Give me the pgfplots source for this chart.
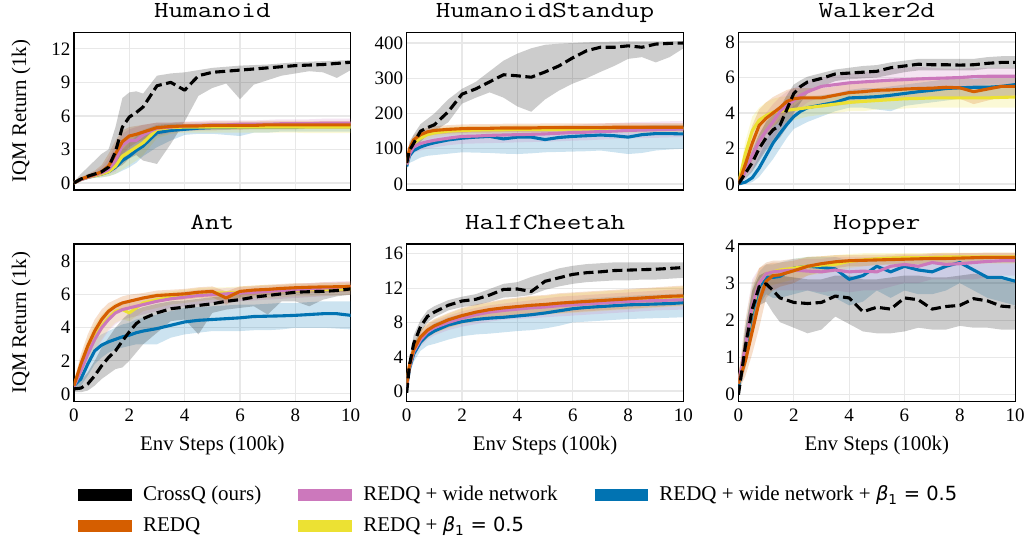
\documentclass[border=0pt]{standalone}
\usepackage{pgfplots}
\pgfplotsset{compat=1.18}
\usepackage{pgfplotstable}
\usepgfplotslibrary{fillbetween}
\usepackage{fontspec}
\setmainfont{Liberation Serif}
\newfontfamily\ttl{Latin Modern Mono}[FakeStretch=1.23]
\newfontfamily\dvs{DejaVu Sans}

\definecolor{redq}{HTML}{D55E00}
\definecolor{wide}{HTML}{CC78BC}
\definecolor{beta}{HTML}{ECE133}
\definecolor{wbeta}{HTML}{0173B2}

% columns: c = CrossQ, r = REDQ, w = REDQ+wide, b = REDQ+beta, q = REDQ+wide+beta
% m = IQM, l/h = lower/upper band
\pgfplotstableread{
x    cm    cl    ch    rm   rl   rh   wm   wl   wh   bm   bl   bh   qm   ql   qh
0    0.0   0.0   0.1   0.0  0.0  0.1  0.0  0.0  0.1  0.0  0.0  0.1  0.0  0.0  0.1
0.25 0.35  0.2   0.8   0.35 0.2  0.5  0.3  0.2  0.45 0.3  0.2  0.45 0.3  0.2  0.45
0.5  0.6   0.4   1.4   0.55 0.4  0.8  0.5  0.35 0.7  0.5  0.35 0.7  0.5  0.35 0.7
0.75 0.8   0.6   2.0   0.75 0.55 1.1  0.7  0.5  1.0  0.65 0.45 0.9  0.65 0.45 0.9
1    1.0   0.8   2.6   1.0  0.7  1.6  0.9  0.6  1.4  0.8  0.5  1.2  0.8  0.5  1.2
1.25 1.4   1.0   3.0   1.5  0.9  2.6  1.2  0.8  2.2  1.0  0.6  1.8  1.0  0.6  1.6
1.5  2.8   1.3   5.0   2.6  1.4  3.8  2.0  1.0  3.4  1.5  0.8  2.6  1.4  0.8  2.2
1.75 5.0   1.6   7.6   3.7  2.5  4.7  3.4  2.0  4.4  2.4  1.2  3.6  2.0  1.1  3.0
2    5.9   2.2   8.1   4.2  3.2  5.0  3.8  2.6  4.8  2.8  1.6  4.0  2.4  1.4  3.6
2.25 6.3   2.5   8.2   4.35 3.6  5.1  3.8  2.9  5.0  3.2  2.0  4.4  2.9  1.8  4.2
2.5  6.8   2.0   8.0   4.55 3.9  5.2  4.3  3.4  5.2  3.6  2.5  4.8  3.3  2.4  4.7
3    8.7   1.7   9.6   4.95 4.4  5.4  4.9  4.2  5.4  4.8  4.0  5.2  4.5  3.2  5.2
3.5  9.0   3.5   9.8   5.05 4.6  5.4  5.0  4.5  5.4  4.95 4.4  5.3  4.7  3.8  5.3
4    8.3   5.5   9.9   5.1  4.7  5.45 5.1  4.6  5.5  5.0  4.5  5.3  4.8  4.3  5.3
4.5  9.6   7.8   10.1  5.1  4.7  5.45 5.15 4.7  5.55 5.0  4.5  5.3  4.9  4.4  5.3
5    9.9   8.5   10.3  5.15 4.7  5.5  5.2  4.8  5.6  5.0  4.5  5.35 4.95 4.4  5.35
5.5  10.0  8.9   10.4  5.15 4.75 5.5  5.2  4.8  5.6  5.0  4.5  5.35 4.95 4.3  5.35
6    10.1  7.5   10.5  5.15 4.75 5.5  5.25 4.85 5.6  5.0  4.5  5.35 5.0  4.2  5.4
6.5  10.2  8.8   10.55 5.15 4.8  5.5  5.25 4.9  5.6  5.0  4.5  5.35 5.0  4.5  5.4
7    10.3  9.2   10.6  5.2  4.8  5.55 5.25 4.9  5.65 5.0  4.5  5.35 5.0  4.5  5.4
7.5  10.4  9.6   10.7  5.2  4.8  5.55 5.3  4.9  5.7  5.0  4.5  5.35 5.0  4.6  5.4
8    10.5  9.8   10.8  5.2  4.8  5.55 5.3  4.95 5.7  5.0  4.5  5.35 5.0  4.6  5.4
8.5  10.55 10.0  10.85 5.2  4.85 5.55 5.3  4.95 5.7  5.0  4.45 5.35 5.05 4.6  5.4
9    10.6  9.9   10.9  5.2  4.85 5.55 5.35 5.0  5.75 5.0  4.45 5.35 5.05 4.6  5.4
9.5  10.7  9.4   10.95 5.2  4.85 5.55 5.35 5.0  5.75 5.0  4.45 5.35 5.05 4.6  5.4
10   10.8  10.1  11.0  5.2  4.85 5.55 5.35 5.0  5.75 5.0  4.45 5.35 5.05 4.6  5.4
}\tabHU

\pgfplotstableread{
x    cm  cl  ch  rm  rl  rh  wm  wl  wh  bm  bl  bh  qm  ql  qh
0    60  50  70  60  50  70  55  45  65  55  45  65  50  40  60
0.1  95  70  120 100 88  112 85  70  100 90  78  102 80  60  95
0.25 115 95  140 125 112 138 105 88  122 115 102 128 95  65  115
0.5  150 120 170 140 128 152 115 95  135 130 118 142 105 75  130
0.75 160 140 185 148 136 160 120 100 140 140 128 152 112 80  138
1    168 150 200 152 140 164 124 104 144 145 133 157 117 82  145
1.5  205 175 240 155 143 167 130 110 150 150 138 162 125 86  152
2    255 228 270 157 145 169 135 114 155 152 140 164 130 90  156
2.5  270 245 290 158 146 170 136 115 157 153 141 165 133 89  158
3    290 260 320 158 146 170 138 116 160 154 142 166 135 88  160
3.5  310 245 350 159 147 171 139 117 161 154 142 166 128 86  155
4    307 220 370 159 147 171 140 118 162 155 143 167 133 85  158
4.5  303 205 385 159 147 171 141 119 163 155 143 167 133 87  158
5    318 240 395 160 148 172 142 120 164 155 143 167 126 90  152
5.5  335 265 398 160 148 172 144 121 166 155 143 167 132 91  157
6    358 285 400 160 148 172 146 123 168 156 144 168 135 92  160
6.5  378 300 402 160 148 172 147 124 170 156 144 168 137 93  162
7    388 318 403 160 148 172 149 126 172 156 144 168 139 95  164
7.5  388 335 404 161 149 173 150 127 173 157 145 169 137 90  162
8    392 355 405 161 149 173 152 129 175 157 145 169 133 85  158
8.5  388 360 405 161 149 173 153 130 176 157 145 169 140 88  165
9    397 345 405 161 149 173 154 131 177 157 145 169 143 95  168
9.5  399 360 405 161 149 173 155 132 178 158 146 170 143 98  168
10   400 385 406 161 149 173 156 133 179 158 146 170 142 100 167
}\tabHS

\pgfplotstableread{
x    cm   cl   ch   rm   rl   rh   wm   wl   wh   bm   bl   bh   qm   ql   qh
0    0.0  0.0  0.2  0.0  0.0  0.3  0.0  0.0  0.2  0.0  0.0  0.3  0.0  0.0  0.1
0.25 0.6  0.3  1.0  1.1  0.5  1.9  0.7  0.3  1.3  1.7  0.9  2.4  0.1  0.0  0.3
0.5  1.2  0.7  1.9  2.3  1.3  3.3  1.6  0.8  2.5  3.0  2.0  3.8  0.35 0.1  0.8
0.75 2.0  1.3  2.8  3.3  2.2  4.2  2.4  1.4  3.4  3.6  2.7  4.3  0.9  0.4  1.6
1    2.6  1.9  3.5  3.7  2.8  4.6  3.0  2.0  4.0  3.85 3.0  4.6  1.6  0.9  2.4
1.25 3.05 2.3  3.9  4.0  3.2  4.9  3.5  2.5  4.5  4.05 3.3  4.8  2.3  1.4  3.2
1.5  3.3  2.6  4.3  4.3  3.6  5.1  4.1  3.1  4.9  4.1  3.4  4.9  2.85 2.0  3.7
1.75 4.2  3.2  5.0  4.65 4.0  5.3  4.4  3.5  5.2  4.15 3.5  4.95 3.35 2.6  4.1
2    5.1  4.0  5.6  4.8  4.2  5.4  4.7  3.9  5.4  4.2  3.6  5.0  3.8  3.1  4.4
2.25 5.5  4.6  5.85 4.85 4.3  5.4  5.0  4.3  5.6  4.25 3.7  5.0  4.1  3.3  4.7
2.5  5.75 5.1  6.05 4.85 4.3  5.4  5.2  4.6  5.8  4.3  3.8  5.0  4.3  3.5  4.9
3    5.95 5.5  6.25 4.85 4.3  5.4  5.5  4.9  6.0  4.4  3.9  5.0  4.45 3.8  5.0
3.5  6.2  5.8  6.45 5.0  4.4  5.5  5.6  5.0  6.1  4.5  4.0  5.1  4.6  4.1  5.1
4    6.25 5.9  6.55 5.15 4.5  5.7  5.7  5.1  6.2  4.6  4.1  5.2  4.85 4.3  5.3
4.5  6.3  5.95 6.65 5.2  4.6  5.8  5.75 5.1  6.3  4.65 4.1  5.25 4.88 4.3  5.4
5    6.35 6.0  6.7  5.28 4.7  5.85 5.8  5.1  6.4  4.7  4.2  5.3  4.92 4.2  5.4
5.5  6.55 6.15 6.85 5.3  4.7  5.9  5.85 5.2  6.5  4.75 4.2  5.35 5.0  4.1  5.5
6    6.65 6.3  6.95 5.35 4.75 5.95 5.88 5.25 6.55 4.8  4.25 5.4  5.1  4.4  5.6
6.5  6.75 6.4  7.05 5.38 4.8  6.0  5.92 5.3  6.6  4.82 4.3  5.4  5.2  4.5  5.7
7    6.72 6.4  7.05 5.4  4.8  6.0  5.95 5.4  6.55 4.85 4.3  5.45 5.28 4.6  5.8
7.5  6.72 6.4  7.05 5.45 4.85 6.05 5.97 5.45 6.5  4.85 4.3  5.45 5.38 4.7  5.9
8    6.7  6.4  7.05 5.42 4.8  6.05 6.0  5.5  6.5  4.85 4.3  5.45 5.42 4.8  5.95
8.5  6.72 6.4  7.05 5.2  4.5  5.9  6.05 5.55 6.55 4.85 4.3  5.45 5.45 4.8  6.0
9    6.8  6.5  7.15 5.35 4.7  6.0  6.07 5.6  6.55 4.85 4.3  5.45 5.45 4.8  6.0
9.5  6.85 6.5  7.2  5.5  4.9  6.1  6.07 5.6  6.55 4.88 4.3  5.5  5.5  4.9  6.05
10   6.85 6.5  7.2  5.5  4.9  6.1  6.07 5.6  6.55 4.9  4.3  5.5  5.6  5.0  6.1
}\tabWA

\pgfplotstableread{
x    cm   cl   ch   rm   rl   rh   wm   wl   wh   bm   bl   bh   qm   ql   qh
0    0.3  0.1  0.5  0.5  0.3  0.7  0.45 0.3  0.6  0.5  0.3  0.7  0.5  0.3  0.7
0.25 0.35 0.1  0.8  1.8  1.2  2.4  1.4  0.9  2.0  1.6  1.0  2.2  0.9  0.5  1.4
0.5  0.6  0.2  1.3  2.9  2.2  3.6  2.4  1.7  3.1  2.6  1.9  3.3  1.8  1.1  2.5
0.75 1.1  0.5  2.0  3.8  3.1  4.5  3.3  2.5  4.0  3.4  2.6  4.2  2.6  1.8  3.3
1    1.7  0.9  2.8  4.5  3.8  5.1  4.0  3.2  4.7  4.1  3.3  4.8  2.95 2.2  3.6
1.25 2.2  1.2  3.4  5.0  4.4  5.5  4.5  3.8  5.1  4.6  3.9  5.2  3.15 2.5  3.8
1.5  2.6  1.5  4.0  5.3  4.8  5.7  4.9  4.2  5.4  5.0  4.3  5.5  3.3  2.7  4.0
1.75 3.2  1.6  4.5  5.5  5.0  5.9  5.1  4.5  5.6  5.1  4.5  5.6  3.45 2.8  4.2
2    3.75 2.0  4.9  5.6  5.15 6.0  5.2  4.6  5.7  4.9  4.4  5.6  3.55 2.9  4.3
2.25 4.25 2.5  5.1  5.7  5.3  6.05 5.3  4.7  5.8  5.2  4.7  5.7  3.7  3.0  4.5
2.5  4.55 3.0  5.25 5.8  5.4  6.1  5.4  4.8  5.9  5.5  5.0  5.9  3.8  3.0  4.6
3    4.9  3.7  5.45 5.95 5.6  6.25 5.6  5.0  6.0  5.7  5.2  6.1  3.95 3.0  4.8
3.5  5.15 4.4  5.6  6.0  5.65 6.3  5.75 5.2  6.1  5.85 5.4  6.2  4.15 3.4  5.0
4    5.25 4.5  5.65 6.05 5.7  6.35 5.85 5.3  6.2  5.95 5.5  6.3  4.35 3.6  5.2
4.5  5.35 3.6  5.75 6.15 5.8  6.45 5.95 5.4  6.3  6.05 5.6  6.4  4.45 3.7  5.25
5    5.45 4.9  5.85 6.2  5.85 6.5  6.0  5.5  6.35 6.1  5.7  6.45 4.5  3.8  5.3
5.5  5.6  5.1  5.95 5.8  5.4  6.2  6.05 5.5  6.4  6.1  5.7  6.45 4.55 3.8  5.35
6    5.7  5.2  6.05 6.2  5.85 6.5  6.1  5.6  6.45 6.15 5.75 6.5  4.6  3.8  5.4
6.5  5.85 5.3  6.15 6.28 5.95 6.55 6.15 5.65 6.5  6.2  5.8  6.55 4.68 3.85 5.4
7    5.95 4.8  6.25 6.32 6.0  6.6  6.2  5.7  6.55 6.22 5.8  6.6  4.7  3.85 5.45
7.5  6.05 5.6  6.35 6.38 6.05 6.65 6.25 5.75 6.6  6.25 5.85 6.6  4.72 3.9  5.5
8    6.15 5.6  6.4  6.42 6.1  6.7  6.3  5.8  6.65 6.28 5.9  6.65 4.75 4.0  5.5
8.5  6.18 5.3  6.45 6.45 6.1  6.7  6.35 5.85 6.7  6.3  5.9  6.65 4.8  4.0  5.55
9    6.2  5.7  6.5  6.47 6.15 6.75 6.4  5.9  6.75 6.32 5.95 6.7  4.85 4.0  5.6
9.5  6.25 5.9  6.55 6.48 6.15 6.75 6.45 5.95 6.8  6.34 5.95 6.7  4.85 3.95 5.6
10   6.35 6.0  6.6  6.5  6.2  6.8  6.5  6.0  6.8  6.35 6.0  6.7  4.75 3.9  5.6
}\tabAN

\pgfplotstableread{
x    cm    cl   ch   rm    rl   rh   wm    wl   wh   bm    bl   bh   qm    ql   qh
0    -0.2  -0.5 0.2  0.8   0.3  1.3  0.5   0.0  1.0  0.7   0.2  1.2  0.5   0.0  1.0
0.1  3.0   2.0  3.8  3.0   2.3  3.7  2.8   2.1  3.5  2.9   2.2  3.6  2.6   1.9  3.3
0.25 5.5   4.5  6.5  4.8   4.0  5.6  4.6   3.8  5.4  4.7   3.9  5.5  4.3   3.4  5.1
0.5  7.5   6.8  8.3  6.3   5.5  7.1  6.0   5.2  6.8  6.2   5.4  7.0  5.7   4.7  6.6
0.75 8.7   8.0  9.4  7.1   6.3  7.9  6.9   6.0  7.7  7.0   6.2  7.8  6.5   5.3  7.4
1    9.2   8.6  9.9  7.6   6.8  8.4  7.4   6.5  8.2  7.5   6.7  8.3  7.0   5.5  7.9
1.5  10.0  9.4  10.6 8.3   7.4  9.1  8.0   7.1  8.8  8.2   7.3  9.0  7.7   6.0  8.6
2    10.5  9.8  11.0 8.8   7.9  9.7  8.5   7.5  9.3  8.7   7.8  9.6  8.1   6.4  9.0
2.5  10.7  10.0 11.3 9.2   8.2  10.1 8.9   7.8  9.7  9.1   8.1  10.0 8.35  6.6  9.3
3    11.2  10.4 11.9 9.5   8.5  10.4 9.2   8.1  10.0 9.4   8.4  10.3 8.5   6.7  9.5
3.5  11.85 10.9 12.5 9.7   8.7  10.7 9.4   8.3  10.2 9.6   8.6  10.6 8.6   6.85 9.7
4    11.9  11.0 12.7 9.85  8.8  10.9 9.55  8.4  10.4 9.75  8.7  10.8 8.75  7.0  9.8
4.5  11.6  11.2 13.3 10.0  8.9  11.1 9.7   8.5  10.6 9.9   8.8  11.0 8.9   7.1  10.0
5    12.8  11.8 13.8 10.1  9.0  11.2 9.8   8.6  10.8 10.0  8.9  11.1 9.1   7.3  10.2
5.5  13.2  12.2 14.3 10.25 9.1  11.4 9.95  8.7  11.0 10.15 9.0  11.3 9.35  7.6  10.4
6    13.6  12.5 14.6 10.35 9.2  11.5 10.05 8.8  11.1 10.25 9.1  11.4 9.6   8.0  10.6
6.5  13.8  12.7 14.8 10.45 9.3  11.6 10.15 8.9  11.2 10.35 9.2  11.5 9.75  8.1  10.8
7    13.9  12.8 14.9 10.55 9.4  11.7 10.25 9.0  11.3 10.45 9.3  11.6 9.85  8.2  10.9
7.5  14.05 12.9 15.0 10.65 9.5  11.8 10.35 9.1  11.4 10.55 9.4  11.7 9.95  8.3  11.0
8    14.1  12.9 15.0 10.75 9.6  11.9 10.45 9.2  11.5 10.65 9.5  11.8 10.05 8.4  11.1
8.5  14.15 13.0 15.0 10.85 9.7  12.0 10.5  9.3  11.6 10.75 9.6  11.9 10.1  8.45 11.2
9    14.2  13.0 15.0 10.95 9.8  12.1 10.55 9.4  11.7 10.85 9.7  12.0 10.15 8.5  11.25
9.5  14.3  13.1 15.0 11.05 9.9  12.2 10.6  9.45 11.8 10.95 9.8  12.1 10.2  8.55 11.3
10   14.4  13.2 15.0 11.1  10.0 12.3 10.65 9.5  11.9 11.0  9.9  12.2 10.3  8.6  11.4
}\tabHC

\pgfplotstableread{
x    cm   cl   ch   rm   rl   rh   wm   wl   wh   bm   bl   bh   qm   ql   qh
0    0.0  0.0  0.1  0.3  0.1  0.5  0.3  0.1  0.5  0.3  0.1  0.5  0.2  0.0  0.4
0.25 1.3  0.9  1.8  0.9  0.5  1.6  1.3  0.8  2.0  1.3  0.8  2.0  1.2  0.7  1.8
0.5  2.3  1.9  2.8  1.7  1.1  2.8  2.4  1.8  3.1  2.3  1.7  3.0  2.2  1.6  2.9
0.75 2.9  2.4  3.2  2.5  1.8  3.4  3.0  2.5  3.4  3.0  2.6  3.4  2.9  2.4  3.3
1    2.98 2.5  3.3  3.05 2.6  3.5  3.25 2.8  3.55 3.25 2.9  3.55 3.15 2.7  3.5
1.25 2.8  2.2  3.25 3.2  2.8  3.55 3.3  2.8  3.6  3.3  2.95 3.6  3.15 2.6  3.5
1.5  2.6  1.95 3.2  3.22 2.9  3.55 3.32 2.8  3.6  3.35 3.0  3.6  3.18 2.6  3.55
2    2.48 1.8  3.15 3.33 3.0  3.6  3.35 2.8  3.65 3.4  3.1  3.65 3.4  2.7  3.65
2.5  2.45 1.65 3.1  3.45 3.2  3.7  3.32 2.8  3.65 3.45 3.2  3.7  3.45 2.8  3.7
3    2.48 1.75 3.1  3.52 3.3  3.72 3.3  2.75 3.65 3.48 3.25 3.72 3.42 2.7  3.7
3.5  2.65 2.1  3.2  3.57 3.4  3.75 3.35 2.8  3.7  3.5  3.3  3.75 3.38 2.6  3.7
4    2.6  1.9  3.2  3.6  3.45 3.75 3.3  2.75 3.7  3.58 3.4  3.78 3.1  2.4  3.6
4.5  2.23 1.7  3.1  3.61 3.45 3.76 3.32 2.8  3.7  3.62 3.45 3.8  3.2  2.5  3.65
5    2.35 1.65 3.1  3.62 3.48 3.76 3.3  2.8  3.7  3.65 3.5  3.8  3.45 2.8  3.7
5.5  2.3  1.65 3.15 3.63 3.5  3.77 3.45 2.9  3.72 3.67 3.5  3.8  3.3  2.6  3.7
6    2.6  1.7  3.2  3.64 3.5  3.78 3.5  3.0  3.75 3.68 3.5  3.8  3.45 2.8  3.72
6.5  2.55 1.8  3.2  3.65 3.5  3.78 3.45 3.0  3.75 3.68 3.5  3.8  3.35 2.7  3.7
7    2.3  1.75 3.15 3.66 3.52 3.8  3.55 3.1  3.78 3.69 3.52 3.8  3.3  2.7  3.7
7.5  2.37 1.75 3.15 3.66 3.52 3.8  3.5  3.1  3.78 3.7  3.52 3.82 3.45 2.8  3.72
8    2.4  1.85 3.2  3.67 3.53 3.8  3.52 3.1  3.8  3.7  3.52 3.82 3.55 3.0  3.75
8.5  2.58 1.8  3.25 3.68 3.54 3.8  3.55 3.1  3.8  3.7  3.52 3.82 3.35 2.8  3.7
9    2.52 1.8  3.2  3.69 3.55 3.82 3.58 3.15 3.8  3.7  3.52 3.82 3.15 2.6  3.65
9.5  2.38 1.75 3.1  3.69 3.55 3.82 3.6  3.2  3.8  3.7  3.52 3.82 3.15 2.5  3.6
10   2.35 1.75 3.05 3.69 3.55 3.82 3.6  3.2  3.8  3.7  3.52 3.82 3.05 2.4  3.6
}\tabHO

% shaded band between two columns
\newcommand{\band}[4]{%
  \addplot[draw=none, forget plot, name path=L#2] table[x=x, y=#2]{#1};
  \addplot[draw=none, forget plot, name path=H#3] table[x=x, y=#3]{#1};
  \addplot[fill=#4, fill opacity=0.2, draw=none, forget plot] fill between[of=L#2 and H#3];
}
% all five methods of one panel
\newcommand{\curves}[1]{%
  \band{#1}{ql}{qh}{wbeta}
  \band{#1}{bl}{bh}{beta}
  \band{#1}{wl}{wh}{wide}
  \band{#1}{rl}{rh}{redq}
  \band{#1}{cl}{ch}{black}
  \addplot[wbeta, curve] table[x=x, y=qm]{#1};
  \addplot[beta, curve] table[x=x, y=bm]{#1};
  \addplot[wide, curve] table[x=x, y=wm]{#1};
  \addplot[redq, curve] table[x=x, y=rm]{#1};
  \addplot[black, curve, dash pattern=on 10bp off 4.5bp] table[x=x, y=cm]{#1};
}

\newcommand{\betaeq}{{\dvs\fontsize{19.5bp}{24bp}\selectfont\itshape β}%
  {\dvs\fontsize{19.5bp}{24bp}\selectfont\textsubscript{1} = 0.5}}

\pgfplotsset{
  curve/.style={line width=3.1bp, line join=round},
  panel/.style={
    scale only axis, width=277bp, height=158bp,
    xmin=0, xmax=10, xtick={0,2,4,6,8,10},
    grid=major, grid style={draw=black!9, line width=1.2bp},
    major tick length=0pt,
    axis line style={line width=1.2bp},
    tick label style={font=\fontsize{19bp}{20bp}\selectfont},
    xticklabel style={yshift=-4bp},
    /pgf/number format/assume math mode=true,
    title style={font=\ttl\fontsize{23bp}{26bp}\selectfont,
      at={(axis description cs:0.5,1)}, anchor=base, yshift=8.5bp},
    label style={font=\fontsize{20.8bp}{24bp}\selectfont},
    ylabel style={at={(axis description cs:-0.173,0.5)}, anchor=base},
    xlabel style={at={(axis description cs:0.5,-0.308)}, anchor=base},
  },
  toprow/.style={xticklabels={}},
}

\begin{document}
\begin{tikzpicture}
% page frame: all content lies inside it
\path (0,0) rectangle (1028bp,-538bp);

\begin{axis}[panel, toprow, at={(74bp,-32bp)}, anchor=north west,
  title={Humanoid}, ylabel={IQM Return (1k)},
  ymin=-0.63, ymax=13.5, ytick={0,3,6,9,12}]
\curves{\tabHU}
\end{axis}

\begin{axis}[panel, toprow, at={(407bp,-32bp)}, anchor=north west,
  title={HumanoidStandup},
  ymin=-17, ymax=431, ytick={0,100,200,300,400}]
\curves{\tabHS}
\end{axis}

\begin{axis}[panel, toprow, at={(739bp,-32bp)}, anchor=north west,
  title={Walker2d},
  ymin=-0.34, ymax=8.56, ytick={0,2,4,6,8}]
\curves{\tabWA}
\end{axis}

\begin{axis}[panel, at={(74bp,-244bp)}, anchor=north west,
  title={Ant}, ylabel={IQM Return (1k)}, xlabel={Env Steps (100k)},
  ymin=-0.48, ymax=9.07, ytick={0,2,4,6,8}]
\curves{\tabAN}
\end{axis}

\begin{axis}[panel, at={(407bp,-244bp)}, anchor=north west,
  title={HalfCheetah}, xlabel={Env Steps (100k)},
  ymin=-1.25, ymax=17.15, ytick={0,4,8,12,16}]
\curves{\tabHC}
\end{axis}

\begin{axis}[panel, at={(739bp,-244bp)}, anchor=north west,
  title={Hopper}, xlabel={Env Steps (100k)},
  ymin=-0.19, ymax=4.05, ytick={0,1,2,3,4}]
\curves{\tabHO}
\end{axis}

% shared legend (the swatch's bounding box reaches 6bp past each end)
\begin{axis}[at={(72bp,-486bp)}, anchor=north west, hide axis,
  scale only axis, width=1bp, height=1bp,
  xmin=0, xmax=1, ymin=0, ymax=1,
  legend columns=3, legend cell align=left,
  legend image code/.code={\draw[#1, line width=12bp] (0bp,0bp) -- (54bp,0bp);},
  legend style={at={(0,1)}, anchor=north west, draw=none, fill=none,
    inner sep=0pt, row sep=13bp,
    font=\fontsize{21bp}{24bp}\selectfont,
    nodes={inner sep=0pt, text height=15bp, text depth=3bp},
    /tikz/every odd column/.append style={column sep=5bp},
    /tikz/every even column/.append style={column sep=31bp}}]
\addplot[draw=none, forget plot] coordinates {(0,0) (1,1)};
\addlegendimage{black}
\addlegendentry{CrossQ (ours)}
\addlegendimage{wide}
\addlegendentry{REDQ + wide network}
\addlegendimage{wbeta}
\addlegendentry{REDQ + wide network + \betaeq}
\addlegendimage{redq}
\addlegendentry{REDQ}
\addlegendimage{beta}
\addlegendentry{REDQ + \betaeq}
\end{axis}
\end{tikzpicture}
\end{document}
